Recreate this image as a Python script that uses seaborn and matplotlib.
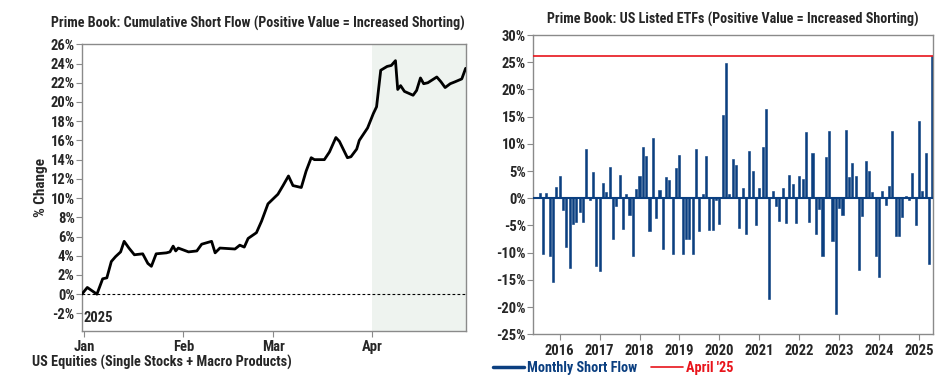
import pandas as pd
import numpy as np
import matplotlib
matplotlib.use("Agg")
import matplotlib.pyplot as plt
import matplotlib.dates as mdates
from matplotlib import font_manager
from matplotlib.lines import Line2D
import seaborn as sns

# --- left chart: cumulative short flow, % change since start of 2025 ---
# days after Jan 1 2025 (vertices) and value in %
flow_days = [-0.7, 1.0, 4.0, 5.8, 7.1, 8.5, 9.8, 11.4, 12.5, 14.0, 15.7, 18.3, 19.9,
             21.0, 22.5, 25.7, 26.8, 27.8, 28.6, 29.4, 32.6, 35.2, 36.7, 39.8, 40.9,
             42.4, 47.1, 48.6, 50.0, 51.2, 53.8, 55.4, 57.4, 60.5, 62.1, 63.8, 65.2,
             67.8, 69.3, 70.9, 71.9, 75.0, 76.6, 78.6, 79.7, 82.2, 83.3, 85.1, 85.9,
             88.5, 90.3, 91.3, 92.6, 94.6, 95.9, 97.2, 97.9, 98.8, 100.0, 102.7,
             103.8, 105.0, 106.0, 107.3, 110.1, 111.4, 112.7, 114.3, 115.8, 117.9, 119.1]
flow_pct = [0.0, 0.7, 0.0, 1.6, 1.7, 3.4, 3.9, 4.4, 5.5, 4.8, 4.1, 4.2, 3.2,
            2.9, 4.2, 4.3, 4.4, 5.0, 4.5, 4.8, 4.4, 4.5, 5.2, 5.5, 4.3,
            4.8, 4.7, 5.1, 4.9, 5.8, 6.4, 7.6, 9.4, 10.4, 11.3, 12.3, 11.3,
            11.1, 12.8, 14.2, 14.0, 14.0, 14.8, 16.3, 15.9, 14.2, 14.3, 15.1, 16.0,
            17.3, 18.8, 19.5, 23.3, 23.7, 23.8, 24.3, 21.3, 21.7, 21.1, 20.7,
            21.2, 22.5, 21.9, 22.0, 22.6, 22.1, 21.5, 21.9, 22.1, 22.4, 23.5]
flow_ticks = [-2, 0, 2, 4, 6, 8, 10, 12, 14, 16, 18, 20, 22, 24, 26]

# --- right chart: monthly short flow in US listed ETFs, Jun 2015 .. Apr 2025 ---
etf_flow = [
    1.0, -10.3, 1.0, -10.6, -15.3, 2.0, 4.1,                                 # 2015
    -2.1, -8.9, -12.9, -4.7, -4.4, -2.5, -4.4, 9.1, -0.3, 4.9, -12.5, -13.4,  # 2016
    2.8, 1.1, 5.8, -7.4, -1.4, 4.2, -5.6, 0.7, -3.1, -10.6, 1.7, 4.1,         # 2017
    9.5, 7.8, -6.1, 11.0, -3.7, 1.5, -9.4, 3.9, 3.3, -10.3, 5.6, 7.9,         # 2018
    -10.3, -7.4, -7.4, -10.2, 9.1, -6.0, 0.7, 7.7, -5.8, -5.8, -0.3, -4.8,    # 2019
    15.3, 24.8, 0.8, 7.3, 6.2, -5.5, 1.9, -6.6, 8.7, 5.0, -4.9, 1.9,          # 2020
    9.4, 16.4, -18.5, 1.4, -1.5, -4.1, 1.9, -4.5, 4.3, 2.7, -4.6, 4.1,        # 2021
    3.6, 12.2, -4.4, 8.4, -6.6, -2.0, -10.6, 7.6, 12.3, -7.9, -21.2, -1.8,    # 2022
    -3.0, 12.5, 3.9, 6.5, 4.1, -13.1, -3.3, 6.9, 5.1, 1.2, -10.7, -14.5,      # 2023
    1.3, -1.2, 2.2, 12.3, -6.9, -6.9, -3.4, 0.5, -0.4, 4.6, -4.9, 14.2,       # 2024
    1.3, 8.4, -12.0, 26.1,                                                    # 2025
]
etf_months = pd.date_range("2015-06-30", periods=len(etf_flow), freq="ME")
april_25 = 26.1
etf_ticks = [-25, -20, -15, -10, -5, 0, 5, 10, 15, 20, 25, 30]
year_labels = [str(y) for y in range(2016, 2026)]

NAVY = "#0b3f80"
RED = "#e8141b"
SPINE = "#8a8a8a"

sns.set_theme(style="white")

# condensed bold look of the original, if one is around
installed = {f.name for f in font_manager.fontManager.ttflist}
family = [f for f in ["Roboto Condensed", "Liberation Sans Narrow", "DejaVu Sans Condensed"]
          if f in installed] + ["DejaVu Sans"]
plt.rcParams["font.family"] = family
plt.rcParams["font.weight"] = "bold"
plt.rcParams["axes.labelweight"] = "bold"

fig = plt.figure(figsize=(9.51, 3.84), dpi=100)
ax1 = fig.add_axes([0.0859, 0.1388, 0.4038, 0.7458])
ax2 = fig.add_axes([0.5605, 0.1294, 0.4209, 0.7794])

# ---------------- left: cumulative short flow ----------------
base = pd.Timestamp("2025-01-01")
df_left = pd.DataFrame({
    "date": base + pd.to_timedelta(flow_days, unit="D"),
    "pct": flow_pct,
})
ax1.axvspan(pd.Timestamp("2025-04-01"), pd.Timestamp("2025-05-02"),
            color="#eef3ef", zorder=0, lw=0)
ax1.axhline(0, color="black", lw=0.8, ls=(0, (2.5, 2)), zorder=1)
sns.lineplot(data=df_left, x="date", y="pct", ax=ax1, color="black", lw=2.0, zorder=3)

ax1.set_xlim(base - pd.Timedelta(hours=18), pd.Timestamp("2025-04-30 03:00"))
ax1.set_ylim(-3.8, 26)
ax1.set_yticks(flow_ticks)
ax1.set_yticklabels([f"{t}%" for t in flow_ticks])
ax1.xaxis.set_major_locator(mdates.MonthLocator())
ax1.xaxis.set_major_formatter(mdates.DateFormatter("%b"))
ax1.set_xlabel("")
ax1.set_ylabel("% Change", fontsize=11, labelpad=2)
ax1.text(0.005, 0.02, "2025", transform=ax1.transAxes, fontsize=10.5,
         fontweight="bold", ha="left", va="bottom")
ax1.set_title("Prime Book: Cumulative Short Flow (Positive Value = Increased Shorting)",
              fontsize=10.2, fontweight="bold", pad=12, x=0.46)
fig.text(0.034, 0.057, "US Equities (Single Stocks + Macro Products)",
         fontsize=10.3, fontweight="bold", ha="left", va="center")

# ---------------- right: monthly ETF short flow ----------------
df_right = pd.DataFrame({"month": etf_months.strftime("%Y-%m"), "flow": etf_flow})
sns.barplot(data=df_right, x="month", y="flow", ax=ax2, color=NAVY,
            saturation=1, width=0.62, edgecolor=NAVY, linewidth=0.4, zorder=2)
ax2.axhline(0, color=NAVY, lw=1.5, zorder=3)
ax2.axhline(april_25, color=RED, lw=1.2, zorder=4)

# year ticks sit on the December bar (month end ~ Jan 1)
dec_pos = [i for i, m in enumerate(etf_months) if m.month == 12]
ax2.set_xticks(dec_pos)
ax2.set_xticklabels(year_labels)
ax2.set_xlim(-2.0, len(etf_flow) - 0.7)
ax2.set_ylim(-25, 30)
ax2.set_yticks(etf_ticks)
ax2.set_yticklabels([f"{t}%" for t in etf_ticks])
ax2.set_xlabel("")
ax2.set_ylabel("")
ax2.set_title("Prime Book: US Listed ETFs (Positive Value = Increased Shorting)",
              fontsize=10.2, fontweight="bold", pad=8)

handles = [Line2D([0], [0], color=NAVY, lw=2.5),
           Line2D([0], [0], color=RED, lw=1.2)]
leg = fig.legend(handles, ["Monthly Short Flow", "April '25"],
                 loc="center left", bbox_to_anchor=(0.518, 0.042), ncol=2,
                 frameon=False, fontsize=10.3, handlelength=2.2, handletextpad=0.2,
                 columnspacing=1.0, borderaxespad=0, borderpad=0)
for txt, col in zip(leg.get_texts(), [NAVY, RED]):
    txt.set_color(col)
    txt.set_fontweight("bold")

# shared axis styling: grey box, outward ticks, bold labels
for ax in (ax1, ax2):
    for sp in ax.spines.values():
        sp.set_color(SPINE)
        sp.set_linewidth(1.0)
    ax.tick_params(axis="both", which="major", direction="out", length=4,
                   width=0.8, color=SPINE, labelsize=10.5, pad=1, left=True, bottom=True)
    for lab in ax.get_xticklabels() + ax.get_yticklabels():
        lab.set_fontweight("bold")
ax1.tick_params(axis="x", pad=3)
ax2.tick_params(axis="x", pad=3)

fig.savefig("out.png", dpi=100)
